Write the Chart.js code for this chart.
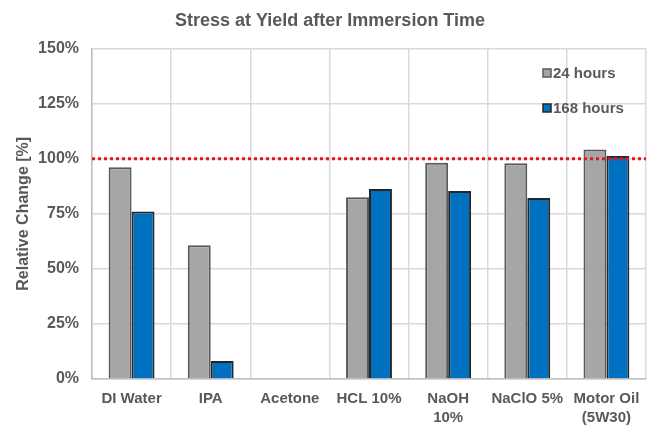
<!DOCTYPE html>
<html>
<head>
<meta charset="utf-8">
<script src="https://cdn.jsdelivr.net/npm/chart.js@4/dist/chart.umd.min.js"></script>
<style>
  body { margin: 0; background: #fff; }
  #wrap { width: 652px; height: 427px; }
</style>
</head>
<body>
<div id="wrap"><canvas id="c1"></canvas></div>
<script>
var categories = ["DI Water", "IPA", "Acetone", "HCL 10%", ["NaOH", "10%"], "NaClO 5%", ["Motor Oil", "(5W30)"]];
var hours24 = [96.1, 60.7, null, 82.5, 98.2, 97.9, 104.2];
var hours168 = [76.1, 8.2, null, 86.3, 85.3, 82.2, 101.2];
var yTicks = [0, 25, 50, 75, 100, 125, 150];
var refLevel = 100;

var textColor = "#595959";

// red dotted line at 100% + legend inside the plot
var extras = {
  id: "extras",
  afterDatasetsDraw: function(chart) {
    var ctx = chart.ctx;
    var area = chart.chartArea;
    var y = chart.scales.y.getPixelForValue(refLevel);
    ctx.save();
    ctx.strokeStyle = "#E8141B";
    ctx.lineWidth = 3;
    ctx.setLineDash([3, 3]);
    ctx.beginPath();
    ctx.moveTo(area.left, y);
    ctx.lineTo(area.right, y);
    ctx.stroke();
    ctx.setLineDash([]);

    var ys = [73, 108];
    chart.data.datasets.forEach(function(ds, i) {
      ctx.fillStyle = ds.backgroundColor;
      ctx.strokeStyle = ds.borderColor;
      ctx.lineWidth = 1.5;
      ctx.fillRect(543, ys[i] - 4, 8, 8);
      ctx.strokeRect(543, ys[i] - 4, 8, 8);
      ctx.fillStyle = textColor;
      ctx.font = "bold 15px 'Liberation Sans', Arial";
      ctx.textBaseline = "middle";
      ctx.fillText(ds.label, 553, ys[i] + 1);
    });
    ctx.restore();
  }
};

new Chart(document.getElementById("c1"), {
  type: "bar",
  data: {
    labels: categories,
    datasets: [
      {
        label: "24 hours",
        data: hours24,
        backgroundColor: "#A6A6A6",
        borderColor: "#595959",
        borderWidth: 2
      },
      {
        label: "168 hours",
        data: hours168,
        backgroundColor: "#0070C0",
        borderColor: "#262626",
        borderWidth: 2
      }
    ]
  },
  plugins: [extras],
  options: {
    responsive: true,
    maintainAspectRatio: false,
    animation: false,
    layout: { padding: { left: 14, right: 6, top: 4, bottom: 0 } },
    datasets: {
      bar: { categoryPercentage: 0.58, barPercentage: 1 }
    },
    plugins: {
      legend: { display: false },
      tooltip: { enabled: false },
      title: {
        display: true,
        text: "Stress at Yield after Immersion Time",
        color: textColor,
        font: { family: "'Liberation Sans', Arial", size: 18, weight: "bold" },
        padding: { top: 6, bottom: 17 }
      }
    },
    scales: {
      x: {
        grid: { color: "#D9D9D9", lineWidth: 1.5, offset: true, drawTicks: false },
        border: { color: "#BFBFBF", width: 1.5 },
        afterFit: function(scale) { scale.height = 48; },
        ticks: {
          color: textColor,
          font: { family: "'Liberation Sans', Arial", size: 15, weight: "bold", lineHeight: 1.3 },
          maxRotation: 0,
          autoSkip: false,
          padding: 10
        }
      },
      y: {
        min: 0,
        max: 150,
        afterBuildTicks: function(axis) {
          axis.ticks = yTicks.map(function(v) { return { value: v }; });
        },
        afterFit: function(scale) { scale.width = 78; },
        grid: { color: "#D9D9D9", lineWidth: 1.5, drawTicks: false },
        border: { color: "#BFBFBF", width: 1.5 },
        ticks: {
          color: textColor,
          font: { family: "'Liberation Sans', Arial", size: 16, weight: "bold" },
          padding: 13,
          callback: function(v) { return v + "%"; }
        },
        title: {
          display: true,
          text: "Relative Change [%]",
          color: textColor,
          font: { family: "'Liberation Sans', Arial", size: 16, weight: "bold" },
          padding: { top: 0, bottom: 3 }
        }
      }
    }
  }
});
</script>
</body>
</html>
